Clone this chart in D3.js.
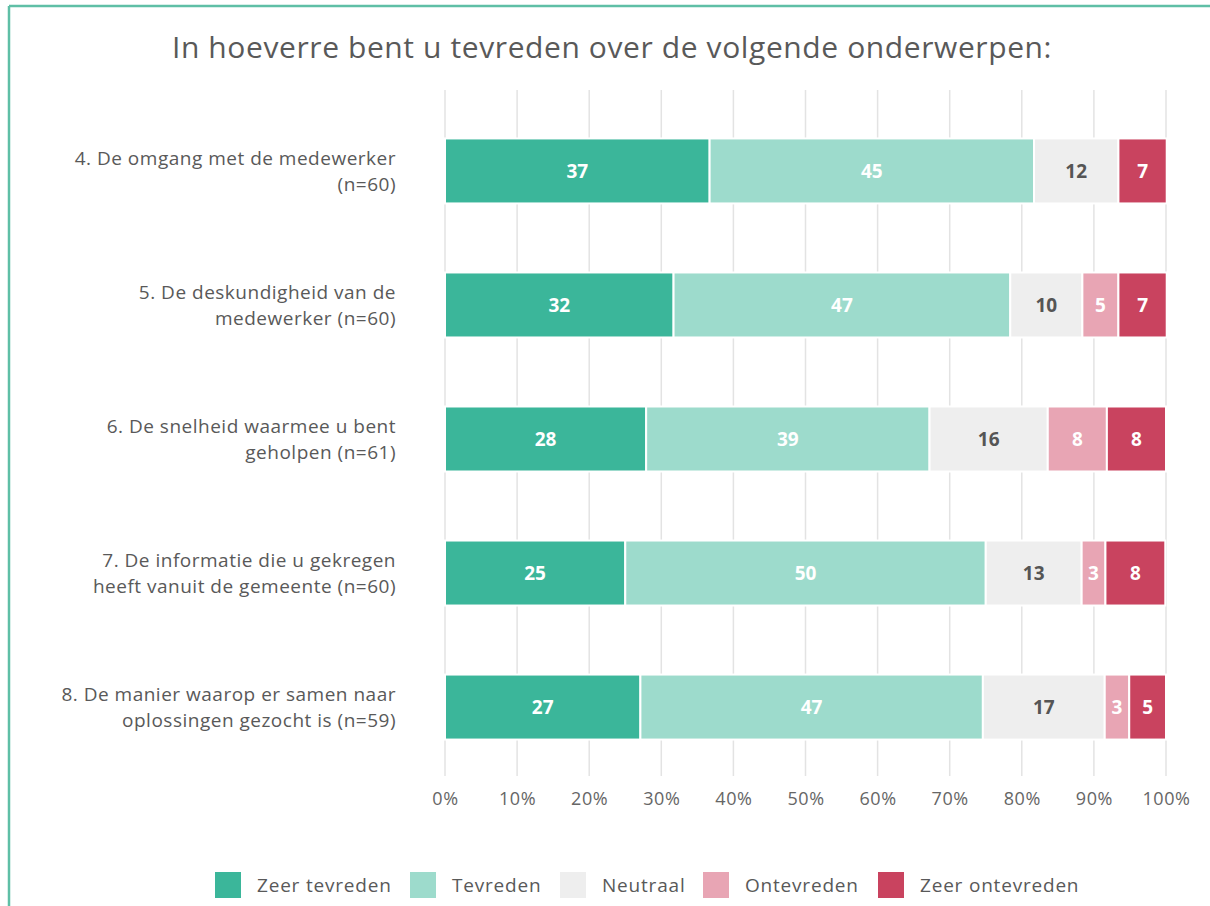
<!DOCTYPE html>
<html>
<head>
<meta charset="utf-8">
<script src="https://cdn.jsdelivr.net/npm/d3@7"></script>
<style>
  body { margin: 0; background: #fff; }
  svg { display: block; font-family: "Open Sans", Lato, sans-serif; }
</style>
</head>
<body>
<svg id="chart" width="1210" height="906"></svg>
<script>
// questions, two lines each
var questions = [
  ["4. De omgang met de medewerker", "(n=60)"],
  ["5. De deskundigheid van de", "medewerker (n=60)"],
  ["6. De snelheid waarmee u bent", "geholpen (n=61)"],
  ["7. De informatie die u gekregen", "heeft vanuit de gemeente (n=60)"],
  ["8. De manier waarop er samen naar", "oplossingen gezocht is (n=59)"]
];
var answers = ["Zeer tevreden", "Tevreden", "Neutraal", "Ontevreden", "Zeer ontevreden"];
var colors = ["#3bb69a", "#9ddbcc", "#eeeeee", "#e8a5b4", "#c9435f"];
var labelColors = ["#fff", "#fff", "#555", "#fff", "#fff"];

// percentages per answer, one value per question
var zeerTevreden   = [36.7, 31.7, 27.9, 25.0, 27.1];
var tevreden       = [45.0, 46.7, 39.3, 50.0, 47.5];
var neutraal       = [11.7, 10.0, 16.4, 13.3, 16.9];
var ontevreden     = [0,    5.0,  8.2,  3.3,  3.4];
var zeerOntevreden = [6.7,  6.7,  8.2,  8.3,  5.1];
var ticks = [0, 10, 20, 30, 40, 50, 60, 70, 80, 90, 100];

var series = [zeerTevreden, tevreden, neutraal, ontevreden, zeerOntevreden];
var rows = questions.map(function(q, i){
  var r = {idx: i};
  answers.forEach(function(a, j){ r[a] = series[j][i]; });
  return r;
});

var svg = d3.select("#chart");

// frame lines (top and left only)
svg.append("line").attr("x1", 9).attr("x2", 1210).attr("y1", 6).attr("y2", 6)
  .style("stroke", "#5fbfa6").style("stroke-width", 2.5);
svg.append("line").attr("x1", 9).attr("x2", 9).attr("y1", 6).attr("y2", 906)
  .style("stroke", "#5fbfa6").style("stroke-width", 2.5);

svg.append("text")
  .attr("x", 612).attr("y", 58)
  .attr("text-anchor", "middle")
  .style("font-size", "30px")
  .style("letter-spacing", "0.6px")
  .style("fill", "#595959")
  .text("In hoeverre bent u tevreden over de volgende onderwerpen:");

var x = d3.scaleLinear().domain([0, 100]).range([445, 1166]);
var y = d3.scaleBand().domain(d3.range(questions.length)).range([104, 774]).paddingInner(0.515).paddingOuter(0.257);

// gridlines
svg.append("g").selectAll("line").data(ticks).join("line")
  .attr("x1", function(d){ return x(d); })
  .attr("x2", function(d){ return x(d); })
  .attr("y1", 90).attr("y2", 776)
  .style("stroke", "#e3e3e3").style("stroke-width", 1.5);

// axis labels
var axis = d3.axisBottom(x).tickValues(ticks).tickSize(0).tickPadding(0)
  .tickFormat(function(d){ return d + "%"; });
var ax = svg.append("g").attr("transform", "translate(0,792)").call(axis);
ax.select(".domain").remove();
ax.selectAll("text").style("font-size", "18px").style("fill", "#666")
  .style("letter-spacing", "0.6px")
  .style("font-family", "'Open Sans', Lato, sans-serif");

var stack = d3.stack().keys(answers);
var layers = stack(rows);

var groups = svg.append("g").selectAll("g").data(layers).join("g")
  .style("fill", function(d, i){ return colors[i]; });

groups.selectAll("rect").data(function(d){ return d; }).join("rect")
  .attr("x", function(d){ return x(d[0]); })
  .attr("width", function(d){ return Math.max(0, x(d[1]) - x(d[0])); })
  .attr("y", function(d, i){ return y(i); })
  .attr("height", y.bandwidth())
  .style("stroke", "#fff").style("stroke-width", 2);

groups.each(function(layer, k){
  d3.select(this).selectAll("text").data(layer.filter(function(d){ return d[1] - d[0] > 0; }))
    .join("text")
    .attr("x", function(d){ return (x(d[0]) + x(d[1])) / 2; })
    .attr("y", function(d){ return y(d.data.idx) + y.bandwidth() / 2; })
    .attr("dy", "0.36em")
    .attr("text-anchor", "middle")
    .style("font-size", "19px")
    .style("font-weight", "bold")
    .style("fill", labelColors[k])
    .text(function(d){ return Math.round(d[1] - d[0]); });
});

// question labels
var ql = svg.append("g").selectAll("text").data(questions).join("text")
  .attr("x", 396)
  .attr("y", function(d, i){ return y(i) + y.bandwidth() / 2; })
  .attr("text-anchor", "end")
  .style("font-size", "19px")
  .style("letter-spacing", "0.5px")
  .style("fill", "#595959");
ql.selectAll("tspan").data(function(d){ return d; }).join("tspan")
  .attr("x", 396)
  .attr("dy", function(d, i){ return i === 0 ? "-0.3em" : "1.35em"; })
  .text(function(d){ return d; });

// legend
var legendX = [215, 410, 560, 703, 878];
var lg = svg.append("g").selectAll("g").data(answers).join("g")
  .attr("transform", function(d, i){ return "translate(" + legendX[i] + ",872)"; });
lg.append("rect").attr("width", 26).attr("height", 26)
  .style("fill", function(d, i){ return colors[i]; });
lg.append("text").attr("x", 42).attr("y", 13).attr("dy", "0.36em")
  .style("font-size", "19px").style("letter-spacing", "0.8px").style("fill", "#595959")
  .text(function(d){ return d; });
</script>
</body>
</html>
